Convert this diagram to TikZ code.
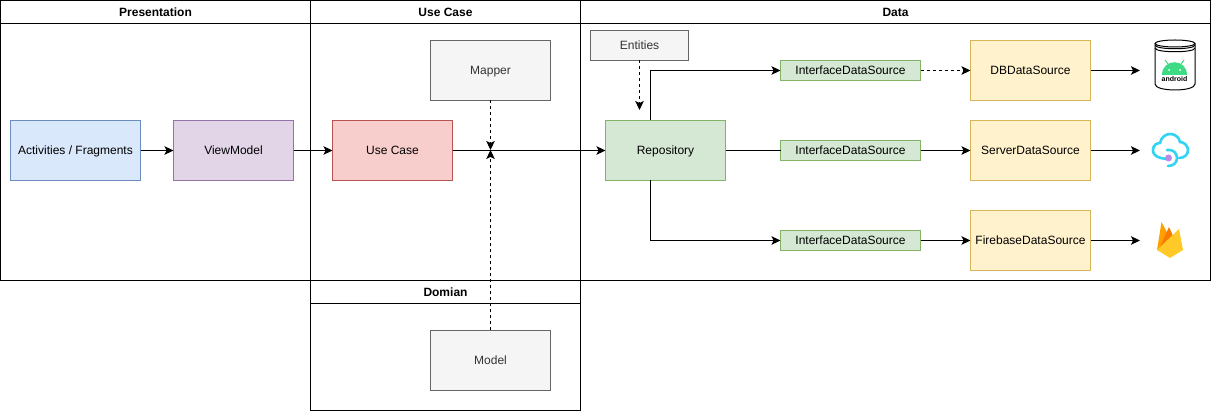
\documentclass[tikz,border=0pt]{standalone}
\usepackage{fontspec}
\setmainfont{Liberation Sans}
\usetikzlibrary{arrows.meta}

\definecolor{bluefill}{HTML}{DAE8FC}
\definecolor{bluedraw}{HTML}{6C8EBF}
\definecolor{purplefill}{HTML}{E1D5E7}
\definecolor{purpledraw}{HTML}{9673A6}
\definecolor{redfill}{HTML}{F8CECC}
\definecolor{reddraw}{HTML}{B85450}
\definecolor{greenfill}{HTML}{D5E8D4}
\definecolor{greendraw}{HTML}{82B366}
\definecolor{yellowfill}{HTML}{FFF2CC}
\definecolor{yellowdraw}{HTML}{D6B656}
\definecolor{grayfill}{HTML}{F5F5F5}
\definecolor{graydraw}{HTML}{666666}
\definecolor{graytext}{HTML}{333333}
\definecolor{androidgreen}{HTML}{3DDC84}
\definecolor{cloudblue}{HTML}{32D4F5}
\definecolor{cloudpurple}{HTML}{B98AE6}
\definecolor{fireyellow}{HTML}{FFCA28}
\definecolor{fireamber}{HTML}{FFA000}
\definecolor{fireorange}{HTML}{F57C00}

\begin{document}
\begin{tikzpicture}[
	x=1pt, y=-1pt,
	every node/.style={ inner sep=0pt, outer sep=0pt, text height=10.6pt, text depth=2pt, font=\fontsize{12pt}{14pt}\selectfont },
	lane/.style={ rectangle, draw=black, line width=1pt },
	lanehead/.style={ rectangle, draw=black, line width=1pt, font=\fontsize{12pt}{14pt}\selectfont\bfseries },
	box/.style={ rectangle, draw, line width=1pt, minimum width=120pt, minimum height=60pt },
	boxblue/.style={ box, fill=bluefill, draw=bluedraw, minimum width=130pt },
	boxpurple/.style={ box, fill=purplefill, draw=purpledraw },
	boxred/.style={ box, fill=redfill, draw=reddraw },
	boxgreen/.style={ box, fill=greenfill, draw=greendraw },
	boxyellow/.style={ box, fill=yellowfill, draw=yellowdraw },
	boxgray/.style={ box, fill=grayfill, draw=graydraw, text=graytext },
	iface/.style={ rectangle, draw=greendraw, fill=greenfill, line width=1pt, minimum width=140pt, minimum height=20pt },
	link/.style={ line width=1pt, -{Stealth[length=9pt,width=8.5pt,inset=2pt]} },
	linkd/.style={ link, dash pattern=on 3pt off 3pt }
]

\useasboundingbox (0,0) rectangle (1211,411);

\node[lane, minimum width=310pt, minimum height=280pt] at (155.5,140.5) (presentationlane) {};
\node[lane, minimum width=270pt, minimum height=280pt] at (445.5,140.5) (usecaselane) {};
\node[lane, minimum width=630pt, minimum height=280pt] at (895.5,140.5) (datalane) {};
\node[lane, minimum width=270pt, minimum height=130pt] at (445.5,345.5) (domainlane) {};
\node[lanehead, minimum width=310pt, minimum height=23pt] at (155.5,12) (presentationhead) {Presentation};
\node[lanehead, minimum width=270pt, minimum height=23pt] at (445.5,12) (usecasehead) {Use Case};
\node[lanehead, minimum width=630pt, minimum height=23pt] at (895.5,12) (datahead) {Data};
\node[lanehead, minimum width=270pt, minimum height=23pt] at (445.5,292) (domainhead) {Domian};

\node[boxblue] at (75.5,150.5) (activities) {Activities / Fragments};
\node[boxpurple] at (233.5,150.5) (viewmodel) {ViewModel};
\node[boxred] at (392.5,150.5) (usecase) {Use Case};
\node[boxgray] at (490.5,70.5) (mapper) {Mapper};
\node[boxgray] at (490.5,360.5) (model) {Model};
\node[boxgray, minimum width=98pt, minimum height=30pt] at (639.5,45.5) (entities) {Entities};
\node[boxgreen] at (665.5,150.5) (repository) {Repository};
\node[iface] at (850.5,70.5) (ifacedb) {InterfaceDataSource};
\node[iface] at (850.5,150.5) (ifaceserver) {InterfaceDataSource};
\node[iface] at (850.5,240.5) (ifacefirebase) {InterfaceDataSource};
\node[boxyellow] at (1030.5,70.5) (dbsource) {DBDataSource};
\node[boxyellow] at (1030.5,150.5) (serversource) {ServerDataSource};
\node[boxyellow] at (1030.5,240.5) (firebasesource) {FirebaseDataSource};

\coordinate (junction) at (490.5,150);
\coordinate (entitiesend) at (639.5,110);
\coordinate (repotop) at (650.5,120);
\coordinate (repobottom) at (650.5,180);
\coordinate (dbicon) at (1140,70.5);
\coordinate (servericon) at (1140,150.5);
\coordinate (firebaseicon) at (1140,240.5);

\draw[link] (activities) to (viewmodel);
\draw[link] (viewmodel) to (usecase);
\draw[link] (usecase) to (repository);
\draw[linkd] (mapper) to (junction);
\draw[linkd] (model) to (junction);
\draw[linkd] (entities) to (entitiesend);
\draw[link] (repotop) |- (ifacedb);
\draw[link] (repobottom) |- (ifacefirebase);
\draw[line width=1pt] (repository) to (ifaceserver);
\draw[linkd] (ifacedb) to (dbsource);
\draw[link] (ifaceserver) to (serversource);
\draw[link] (ifacefirebase) to (firebasesource);
\draw[link] (dbsource) to (dbicon);
\draw[link] (serversource) to (servericon);
\draw[link] (firebasesource) to (firebaseicon);

% jar
\draw[line width=1pt, fill=white] (1155,44) -- (1155,84) .. controls (1155,92) and (1195,92) .. (1195,84) -- (1195,44);
\draw[line width=1pt] (1175,43.5) ellipse [x radius=20, y radius=3.5];
\draw[line width=1pt] (1155,45) .. controls (1155,50) and (1195,50) .. (1195,45);
\draw[line width=1pt] (1155,48) .. controls (1155,53) and (1195,53) .. (1195,48);
\fill[androidgreen] (1162,75) .. controls (1162,58) and (1187,58) .. (1187,75) -- cycle;
\draw[androidgreen, line width=1pt] (1168,64) to (1165,60);
\draw[androidgreen, line width=1pt] (1181,64) to (1184,60);
\fill[white] (1169,70) circle (1pt);
\fill[white] (1180,70) circle (1pt);
\node[text height=5pt, text depth=1pt, font=\fontsize{7pt}{8pt}\selectfont\bfseries] at (1174.5,79.5) (androidtext) {android};

% cloud
\draw[cloudblue, line width=2.6pt, line cap=round] (1166,159)
	.. controls (1160,158) and (1153,157) .. (1153,150)
	.. controls (1153,145) and (1157,143) .. (1160,143)
	.. controls (1161,137) and (1166,134) .. (1170,134)
	.. controls (1175,134) and (1179,137) .. (1180,142)
	.. controls (1184,142) and (1188,146) .. (1188,150)
	.. controls (1188,155) and (1184,158) .. (1179,158);
\draw[cloudblue, line width=2.6pt, line cap=round] (1167,150)
	.. controls (1173,149) and (1177,153) .. (1177,158)
	.. controls (1177,163) and (1173,166) .. (1168,166);
\fill[cloudpurple] (1168.5,158) circle (3.5pt);

% flame
\fill[fireamber] (1157,250) -- (1161.5,222) -- (1170,238) -- (1172,250) -- cycle;
\fill[fireorange] (1160,247) -- (1169,227) -- (1175,240) -- cycle;
\fill[fireyellow] (1157,250) -- (1179,229) -- (1183,250) -- (1170,258) -- cycle;

\end{tikzpicture}
\end{document}
